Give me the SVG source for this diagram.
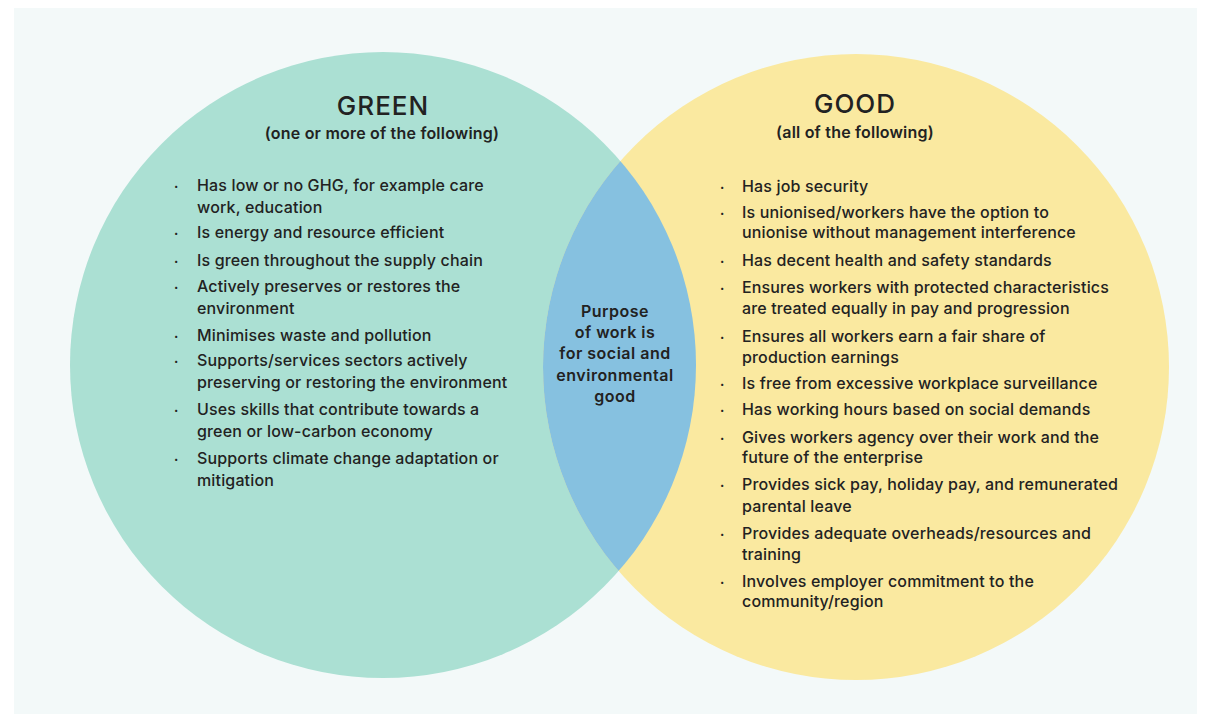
<svg xmlns="http://www.w3.org/2000/svg" width="1211" height="722" viewBox="0 0 1211 722">
<style>
  text { font-family: Inter, "Open Sans", "Liberation Sans", sans-serif; fill: #222; }
  .title { font-size: 26px; font-weight: 500; text-anchor: middle; letter-spacing: 1px; }
  .sub { font-size: 16px; font-weight: 600; text-anchor: middle; letter-spacing: 0.2px; }
  .item { font-size: 16px; font-weight: 500; letter-spacing: 0.15px; }
  .dot { font-size: 13px; font-weight: 700; }
  .mid { font-size: 16px; font-weight: 600; text-anchor: middle; letter-spacing: 0.5px; }
</style>
<defs>
  <clipPath id="clipGreen"><circle cx="383" cy="365" r="313"/></clipPath>
</defs>
<rect x="0" y="0" width="1211" height="722" fill="#ffffff"/>
<rect x="14" y="8" width="1183" height="706" fill="#f3f9f9"/>

<g id="green">
  <circle cx="383" cy="365" r="313" fill="#abe0d3"/>
</g>
<g id="good">
  <circle cx="856" cy="367" r="313" fill="#fae9a0"/>
</g>
<g id="overlap">
  <circle cx="856" cy="367" r="313" fill="#86c1e0" clip-path="url(#clipGreen)"/>
</g>

<g id="green-text">
  <text class="title" x="383" y="115">GREEN</text>
  <text class="sub" x="382" y="139">(one or more of the following)</text>
  <g class="item">
    <text class="dot" x="174" y="191">·</text>
    <text x="197" y="191">Has low or no GHG, for example care</text>
    <text x="197" y="213">work, education</text>
    <text class="dot" x="174" y="238">·</text>
    <text x="197" y="238">Is energy and resource efficient</text>
    <text class="dot" x="174" y="266">·</text>
    <text x="197" y="266">Is green throughout the supply chain</text>
    <text class="dot" x="174" y="292">·</text>
    <text x="197" y="292">Actively preserves or restores the</text>
    <text x="197" y="314">environment</text>
    <text class="dot" x="174" y="341">·</text>
    <text x="197" y="341">Minimises waste and pollution</text>
    <text class="dot" x="174" y="366">·</text>
    <text x="197" y="366">Supports/services sectors actively</text>
    <text x="197" y="388">preserving or restoring the environment</text>
    <text class="dot" x="174" y="415">·</text>
    <text x="197" y="415">Uses skills that contribute towards a</text>
    <text x="197" y="437">green or low-carbon economy</text>
    <text class="dot" x="174" y="464">·</text>
    <text x="197" y="464">Supports climate change adaptation or</text>
    <text x="197" y="486">mitigation</text>
  </g>
</g>

<g id="good-text">
  <text class="title" x="855" y="113">GOOD</text>
  <text class="sub" x="855" y="138">(all of the following)</text>
  <g class="item">
    <text class="dot" x="720" y="192">·</text>
    <text x="742" y="192">Has job security</text>
    <text class="dot" x="720" y="218">·</text>
    <text x="742" y="218">Is unionised/workers have the option to</text>
    <text x="742" y="238">unionise without management interference</text>
    <text class="dot" x="720" y="266">·</text>
    <text x="742" y="266">Has decent health and safety standards</text>
    <text class="dot" x="720" y="293">·</text>
    <text x="742" y="293">Ensures workers with protected characteristics</text>
    <text x="742" y="314">are treated equally in pay and progression</text>
    <text class="dot" x="720" y="342">·</text>
    <text x="742" y="342">Ensures all workers earn a fair share of</text>
    <text x="742" y="363">production earnings</text>
    <text class="dot" x="720" y="389">·</text>
    <text x="742" y="389">Is free from excessive workplace surveillance</text>
    <text class="dot" x="720" y="415">·</text>
    <text x="742" y="415">Has working hours based on social demands</text>
    <text class="dot" x="720" y="443">·</text>
    <text x="742" y="443">Gives workers agency over their work and the</text>
    <text x="742" y="463">future of the enterprise</text>
    <text class="dot" x="720" y="490">·</text>
    <text x="742" y="490">Provides sick pay, holiday pay, and remunerated</text>
    <text x="742" y="512">parental leave</text>
    <text class="dot" x="720" y="539">·</text>
    <text x="742" y="539">Provides adequate overheads/resources and</text>
    <text x="742" y="560">training</text>
    <text class="dot" x="720" y="587">·</text>
    <text x="742" y="587">Involves employer commitment to the</text>
    <text x="742" y="607">community/region</text>
  </g>
</g>

<g id="overlap-text">
  <text class="mid" x="615" y="317">Purpose</text>
  <text class="mid" x="615" y="338">of work is</text>
  <text class="mid" x="615" y="359">for social and</text>
  <text class="mid" x="615" y="381">environmental</text>
  <text class="mid" x="615" y="402">good</text>
</g>

<g id="connectors"></g>
</svg>
